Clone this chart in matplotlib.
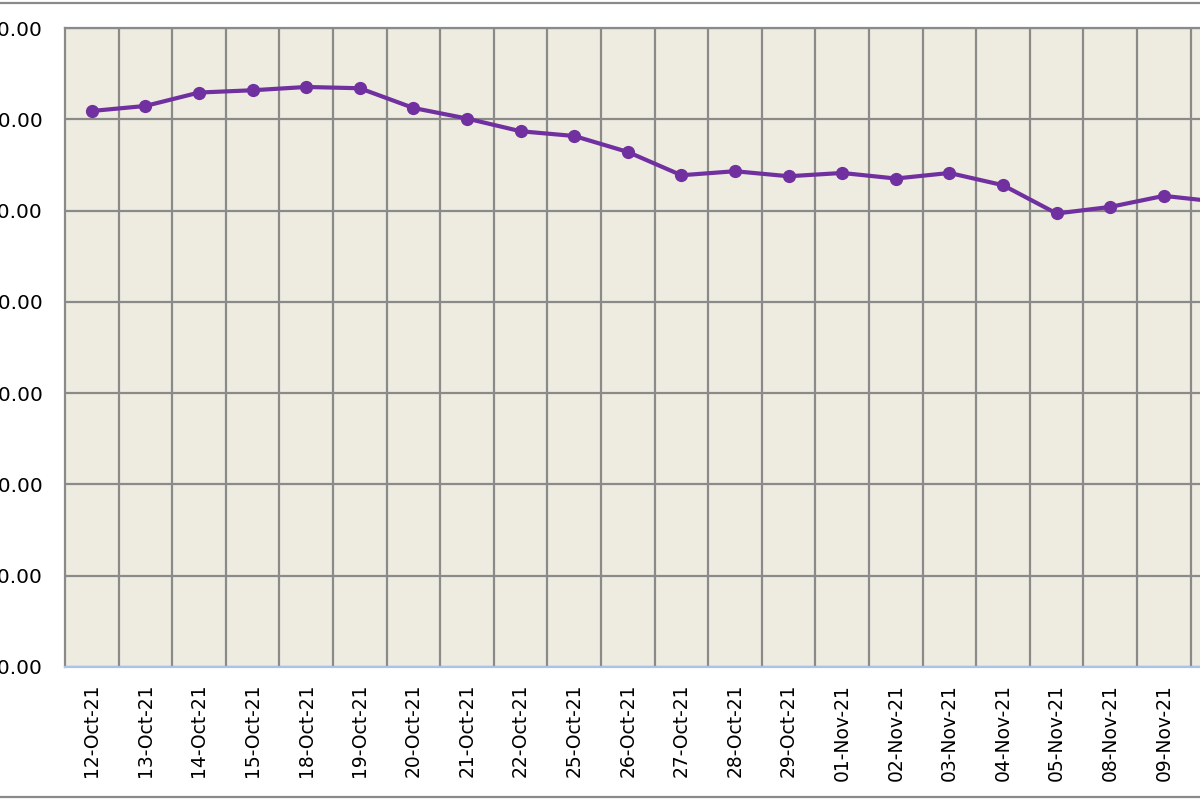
import matplotlib
matplotlib.use("Agg")
import matplotlib.pyplot as plt
from matplotlib.lines import Line2D
from matplotlib.ticker import FixedLocator

dates = ['12-Oct-21', '13-Oct-21', '14-Oct-21', '15-Oct-21', '18-Oct-21', '19-Oct-21',
         '20-Oct-21', '21-Oct-21', '22-Oct-21', '25-Oct-21', '26-Oct-21', '27-Oct-21',
         '28-Oct-21', '29-Oct-21', '01-Nov-21', '02-Nov-21', '03-Nov-21', '04-Nov-21',
         '05-Nov-21', '08-Nov-21', '09-Nov-21', '10-Nov-21']
values = [70.91, 71.46, 72.93, 73.18, 73.54, 73.40,
          71.24, 70.08, 68.69, 68.17, 66.42, 63.87,
          64.31, 63.76, 64.12, 63.51, 64.12, 62.78,
          59.68, 60.40, 61.61, 60.97]
y_ticks = [10, 20, 30, 40, 50, 60, 70, 80]

W, H = 1200, 800
fig = plt.figure(figsize=(12, 8), dpi=100)
fig.patch.set_facecolor('white')

# axes run past the right edge of the picture, like the cropped source
step = 53.6
left, top, bottom = 65, 28, 667
ax = fig.add_axes([left / W, 1 - bottom / H, len(dates) * step / W, (bottom - top) / H])
ax.set_facecolor('#EEEBE0')

x = list(range(len(dates)))
ax.plot(x, values, color='#7030A0', lw=3, marker='o', ms=8.5, zorder=3)

ax.set_xlim(-0.5, len(dates) - 0.5)
ax.set_ylim(y_ticks[0], y_ticks[-1])

ax.set_xticks(x)
ax.set_xticklabels(dates, rotation=90, fontsize=13.5)
ax.xaxis.set_minor_locator(FixedLocator([i + 0.5 for i in range(len(dates))]))
ax.set_yticks(y_ticks)
ax.set_yticklabels(['%.2f' % v for v in y_ticks], fontsize=14.5)

ax.tick_params(axis='x', which='both', length=0, pad=12)
ax.tick_params(axis='y', length=0, pad=16)
ax.grid(True, axis='y', which='major', color='#8A8A8A', lw=1.6)
ax.grid(True, axis='x', which='minor', color='#8A8A8A', lw=1.6)
ax.grid(False, axis='x', which='major')
ax.set_axisbelow(True)

for side in ['top', 'left', 'right']:
    ax.spines[side].set_color('#8A8A8A')
    ax.spines[side].set_linewidth(1.6)
ax.spines['bottom'].set_color('#A9C4E6')
ax.spines['bottom'].set_linewidth(1.6)

# outer chart border (only top and bottom visible)
fig.add_artist(Line2D([0, 1], [1 - 3 / H, 1 - 3 / H], color='#8A8A8A', lw=1.6, transform=fig.transFigure))
fig.add_artist(Line2D([0, 1], [3 / H, 3 / H], color='#8A8A8A', lw=1.6, transform=fig.transFigure))

fig.savefig('out.png', dpi=100)
